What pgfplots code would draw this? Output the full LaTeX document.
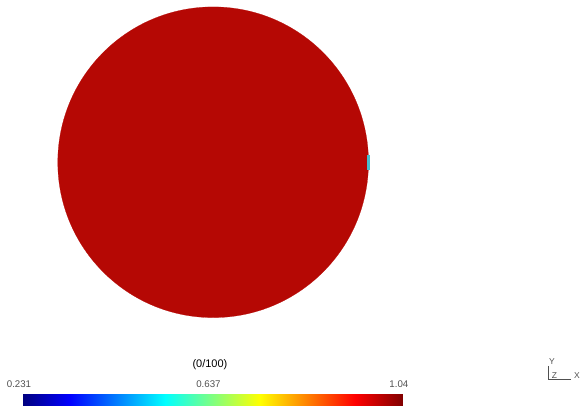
\documentclass[border=0pt]{standalone}
\usepackage{pgfplots}
\pgfplotsset{compat=1.18}
\usepackage{fontspec}
\setmainfont{Liberation Sans}
\definecolor{circred}{RGB}{181,8,4}
\definecolor{sliver}{RGB}{70,190,205}
\definecolor{lblgray}{RGB}{80,80,80}
\begin{document}
\begin{tikzpicture}
\begin{axis}[
  scale only axis, width=583pt, height=406pt,
  xmin=0, xmax=583, ymin=0, ymax=406, y dir=reverse,
  hide axis, clip=false,
  colormap/jet, point meta min=0.231, point meta max=1.04,
]
\path[draw=none] (axis cs:0,0) rectangle (axis cs:583,406);
% field disk
\addplot[circred, only marks, mark=*, mark size=155.4pt,
  mark options={fill=circred, draw=circred, line width=0.2pt}]
  coordinates {(213.2,162.3)};
% small cyan sliver at right edge (drawn as a mark so it sits above the disk)
\addplot[sliver, only marks, mark=square*, mark size=1.6pt,
  mark options={fill=sliver, draw=sliver, xscale=0.8, yscale=4.5}]
  coordinates {(368.2,162.5)};
% colour bar (jet), columns at the colormap's breakpoints
\addplot[surf, shader=interp, point meta=explicit, mesh/cols=6]
  table[meta=c] {
x y c
23 394 0.231
70.5 394 0.3321
165.5 394 0.5344
260.5 394 0.7366
355.5 394 0.9389
403 394 1.04
23 406 0.231
70.5 406 0.3321
165.5 406 0.5344
260.5 406 0.7366
355.5 406 0.9389
403 406 1.04
};
% colour bar labels and title
\node[anchor=base, font=\fontsize{11}{12}\selectfont, text=black] at (axis cs:210,367.5) {(0/100)};
\node[anchor=base, font=\fontsize{9.7}{11}\selectfont, text=lblgray] at (axis cs:19,387.5) {0.231};
\node[anchor=base, font=\fontsize{9.7}{11}\selectfont, text=lblgray] at (axis cs:208.5,387.5) {0.637};
\node[anchor=base, font=\fontsize{9.7}{11}\selectfont, text=lblgray] at (axis cs:399,387.5) {1.04};
% axis triad
\draw[lblgray, line width=0.8pt] (axis cs:548.5,366) -- (axis cs:548.5,380) -- (axis cs:571,380);
\node[anchor=base, font=\fontsize{8.5}{10}\selectfont, text=lblgray] at (axis cs:552,364.5) {Y};
\node[anchor=base, font=\fontsize{8.5}{10}\selectfont, text=lblgray] at (axis cs:554.5,379) {Z};
\node[anchor=base, font=\fontsize{8.5}{10}\selectfont, text=lblgray] at (axis cs:577,379) {X};
\end{axis}
\end{tikzpicture}
\end{document}
